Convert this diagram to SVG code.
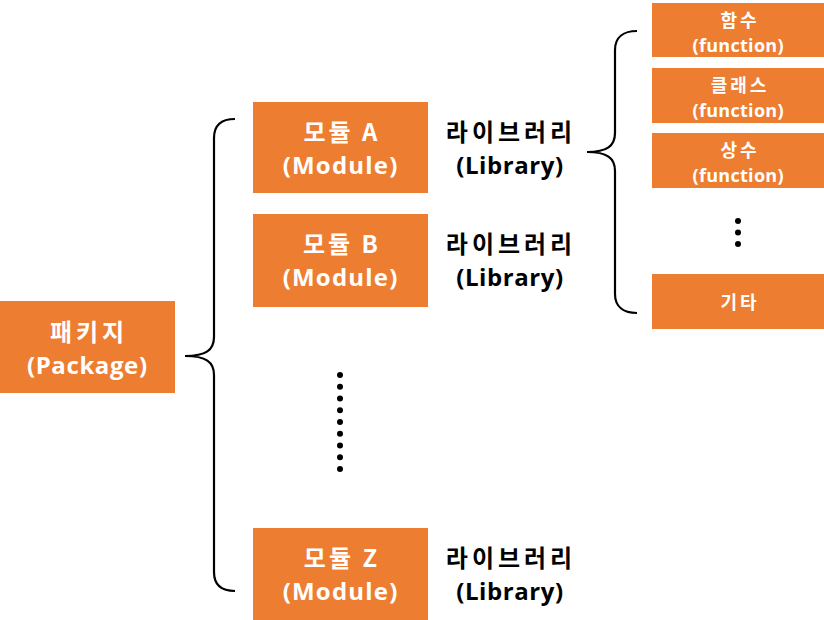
<svg xmlns="http://www.w3.org/2000/svg" width="824" height="620" viewBox="0 0 824 620">
<style>
.box{fill:#ED7D31;}
.wt{fill:#fff;font-family:"Noto Sans CJK KR","Noto Sans",sans-serif;font-weight:bold;text-anchor:middle;}
.bt{fill:#000;font-family:"Noto Sans CJK KR","Noto Sans",sans-serif;font-weight:bold;text-anchor:middle;font-size:24px;}
.lt{font-family:"Open Sans","Noto Sans",sans-serif;}
.big{font-size:24px;}
.sm{font-size:18px;}
.ko{letter-spacing:3px;}
.kolib{letter-spacing:4px;}
.la{letter-spacing:1.2px;}
.lal{letter-spacing:0.6px;}
.lap{letter-spacing:0.6px;}
.las{letter-spacing:0.3px;}
.brace{fill:none;stroke:#000;stroke-width:2.2;}
.dot{fill:#000;}
</style>
<rect width="824" height="620" fill="#fff"/>
<g id="connectors">
<path class="brace" d="M235,119 C222,119 214,125 214,138 L214,337 C214,350 206,356 185,356 C206,356 214,362 214,375 L214,572 C214,585 222,591 235,591"/>
<path class="brace" d="M637,31 C624,31 615,37 615,50 L615,133 C615,146 607,152 587,152 C607,152 615,158 615,171 L615,294 C615,307 624,313 637,313"/>
</g>
<g id="package">
<rect class="box" x="0" y="301" width="175" height="92"/>
<text class="wt big kolib" x="89" y="340.5">패키지</text>
<text class="wt big lt lap" x="87.3" y="373.5">(Package)</text>
</g>
<g id="moduleA">
<rect class="box" x="253" y="102" width="175" height="91"/>
<text class="wt big ko" x="342" y="141">모듈 A</text>
<text class="wt big lt la" x="340.6" y="174">(Module)</text>
</g>
<g id="libA">
<text class="bt kolib" x="511" y="141">라이브러리</text>
<text class="bt lt lal" x="510" y="174">(Library)</text>
</g>
<g id="moduleB">
<rect class="box" x="253" y="214" width="175" height="93"/>
<text class="wt big ko" x="342" y="253">모듈 B</text>
<text class="wt big lt la" x="340.6" y="286">(Module)</text>
</g>
<g id="libB">
<text class="bt kolib" x="511" y="253">라이브러리</text>
<text class="bt lt lal" x="510" y="286">(Library)</text>
</g>
<g id="moduleDots">
<circle class="dot" cx="340" cy="375" r="3"/>
<circle class="dot" cx="340" cy="386.75" r="3"/>
<circle class="dot" cx="340" cy="398.5" r="3"/>
<circle class="dot" cx="340" cy="410.25" r="3"/>
<circle class="dot" cx="340" cy="422" r="3"/>
<circle class="dot" cx="340" cy="433.75" r="3"/>
<circle class="dot" cx="340" cy="445.5" r="3"/>
<circle class="dot" cx="340" cy="457.25" r="3"/>
<circle class="dot" cx="340" cy="469" r="3"/>
</g>
<g id="moduleZ">
<rect class="box" x="253" y="528" width="175" height="92"/>
<text class="wt big ko" x="342" y="567">모듈 Z</text>
<text class="wt big lt la" x="340.6" y="600">(Module)</text>
</g>
<g id="libZ">
<text class="bt kolib" x="511" y="567">라이브러리</text>
<text class="bt lt lal" x="510" y="600">(Library)</text>
</g>
<g id="func">
<rect class="box" x="652" y="3" width="172" height="54"/>
<text class="wt sm ko" x="740" y="26.5">함수</text>
<text class="wt sm lt las" x="738.2" y="51.5">(function)</text>
</g>
<g id="class">
<rect class="box" x="652" y="68" width="172" height="55"/>
<text class="wt sm ko" x="740" y="91.5">클래스</text>
<text class="wt sm lt las" x="738.2" y="116.5">(function)</text>
</g>
<g id="const">
<rect class="box" x="652" y="133" width="172" height="55"/>
<text class="wt sm ko" x="740" y="156.5">상수</text>
<text class="wt sm lt las" x="738.2" y="181.5">(function)</text>
</g>
<g id="rightDots">
<circle class="dot" cx="738" cy="221" r="3"/>
<circle class="dot" cx="738" cy="232.5" r="3"/>
<circle class="dot" cx="738" cy="244" r="3"/>
</g>
<g id="etc">
<rect class="box" x="652" y="274" width="172" height="55"/>
<text class="wt sm ko" x="740" y="309">기타</text>
</g>
</svg>
